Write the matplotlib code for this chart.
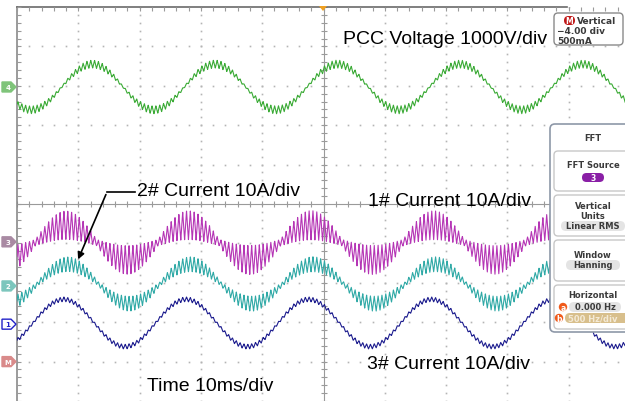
import numpy as np
import matplotlib
matplotlib.use("Agg")
import matplotlib.pyplot as plt
from matplotlib.patches import FancyBboxPatch, Polygon, Circle

# ---- data (1 div = 10 ms horizontally) ----
channel_names = ["4", "3", "2", "1"]
trace_colors = ["#3aaa35", "#b535b5", "#2fa9a6", "#1c1c8e"]
offset_div = [2.97, -0.98, -2.03, -3.02]        # trace centre line
amplitude_div = [0.58, 0.44, 0.50, 0.60]        # 50 Hz fundamental
peak_time_ms = [12.3, 8.0, 8.3, 7.6]            # time of first crest
ripple_peak_div = [0.10, 0.37, 0.19, 0.06]      # ripple half-width at crest
ripple_zero_div = [0.02, 0.08, 0.05, 0.03]      # ripple half-width at zero crossing
fund_hz = 50
ripple_hz = 1600

marker_labels = ["4", "3", "2", "1", "M"]
marker_levels_div = [2.97, -0.96, -2.08, -3.05, -4.0]
marker_colors = ["#7fc47a", "#a98aa3", "#7cc6bd", "white", "#d98a8a"]
marker_edges = ["#7fc47a", "#a98aa3", "#7cc6bd", "#2323c8", "#d98a8a"]

W, H = 625, 402
fig = plt.figure(figsize=(W / 100, H / 100), dpi=100)
fig.patch.set_facecolor("white")

# graticule axes: 10 x 10 divisions, left edge at px 17, top at px 8
ax = fig.add_axes([17 / W, 0, 613 / W, 394 / H])
ax.set_xlim(0, 10)
ax.set_ylim(-5, 5)
ax.axis("off")

gc = "#b4b4b4"
fine_x = np.arange(0, 10.01, 0.2)
fine_y = np.arange(-5, 5.01, 0.2)
for gx in range(1, 10):
    if gx == 5:
        continue
    ax.plot(np.full_like(fine_y, gx), fine_y, ls="none", marker="s", ms=1.2, color=gc, mew=0)
for gy in range(-4, 5):
    if gy == 0:
        continue
    ax.plot(fine_x, np.full_like(fine_x, gy), ls="none", marker="s", ms=1.2, color=gc, mew=0)

# centre cross with minor ticks
ax.plot([0, 10], [0, 0], color="#9a9a9a", lw=0.8)
ax.plot([5, 5], [-5, 5], color="#9a9a9a", lw=0.8)
ax.plot(fine_x, np.zeros_like(fine_x), ls="none", marker="|", ms=4, color="#9a9a9a", mew=0.8)
ax.plot(np.full_like(fine_y, 5), fine_y, ls="none", marker="_", ms=4, color="#9a9a9a", mew=0.8)

# frame: left edge and top edge with inward ticks
top_end = (567 - 17) / 61.3
ax.plot([0, 0], [-5, 5], color="#8a8a8a", lw=1.2, clip_on=False)
ax.plot([0, top_end], [5, 5], color="#6a6a6a", lw=1.2, clip_on=False)
ax.plot(np.zeros_like(fine_y), fine_y, ls="none", marker=1, ms=3, color="#9a9a9a", mew=0.8)
ax.plot(fine_x, np.full_like(fine_x, 5), ls="none", marker=3, ms=3, color="#9a9a9a", mew=0.8, clip_on=False)

# traces: 50 Hz fundamental plus triangular switching ripple
t_ms = np.linspace(0, 100, 8000)
tri = (2 / np.pi) * np.arcsin(np.sin(2 * np.pi * ripple_hz * t_ms / 1000))
for i in range(len(channel_names)):
    ph = 2 * np.pi * fund_hz * (t_ms - peak_time_ms[i]) / 1000
    env = ripple_zero_div[i] + (ripple_peak_div[i] - ripple_zero_div[i]) * np.abs(np.cos(ph))
    y = offset_div[i] + amplitude_div[i] * np.cos(ph) + env * tri
    ax.plot(t_ms / 10, y, color=trace_colors[i], lw=0.8)

# ---- overlay in pixel coordinates for the scope UI ----
ov = fig.add_axes([0, 0, 1, 1])
ov.set_xlim(0, W)
ov.set_ylim(H, 0)
ov.axis("off")
ov.patch.set_alpha(0)

# channel ground markers
for lab, lev, fc, ec in zip(marker_labels, marker_levels_div, marker_colors, marker_edges):
    py = 205 - lev * 39.4
    ov.add_patch(Polygon([(2, py - 5), (11, py - 5), (16, py), (11, py + 5), (2, py + 5)],
                         closed=True, fc=fc, ec=ec, lw=1))
    ov.text(8, py, lab, fontsize=5, ha="center", va="center",
            color=ec if fc == "white" else "white", fontweight="bold")

# trigger marker
ov.add_patch(Polygon([(319, 7), (327, 7), (323, 12)], closed=True, fc="#f0a020", ec="none"))

# annotation text
font = "Liberation Sans"
ov.text(343, 40, "PCC Voltage 1000V/div", fontsize=14, family=font, va="center", ha="left")
ov.text(137, 192, "2# Current 10A/div", fontsize=14, family=font, va="center", ha="left")
ov.text(368, 202, "1# Current 10A/div", fontsize=14, family=font, va="center", ha="left")
ov.text(367, 365, "3# Current 10A/div", fontsize=14, family=font, va="center", ha="left")
ov.text(147, 387, "Time 10ms/div", fontsize=14, family=font, va="center", ha="left")
ov.plot([135, 107], [193, 193], color="black", lw=1.2)
ov.annotate("", xy=(77, 263), xytext=(107, 193),
            arrowprops=dict(arrowstyle="-|>", color="black", lw=1.2, mutation_scale=10))

# vertical readout box
ui = "#3a3a3a"
ov.add_patch(FancyBboxPatch((554, 14), 69, 32, boxstyle="round,pad=0,rounding_size=4",
                            fc="white", ec="#8a8a8a", lw=1))
ov.add_patch(FancyBboxPatch((564, 17), 11, 9, boxstyle="round,pad=0,rounding_size=4.5",
                            fc="#c01818", ec="none"))
ov.text(569.5, 21.8, "M", fontsize=5.5, color="white", ha="center", va="center", fontweight="bold")
ov.text(577, 21.5, "Vertical", fontsize=6.5, color=ui, va="center", fontweight="bold")
ov.text(557, 31.5, "\u22124.00 div", fontsize=6.5, color=ui, va="center", fontweight="bold")
ov.text(557, 41.5, "500mA", fontsize=6.5, color=ui, va="center", fontweight="bold")

# FFT side panel
ov.add_patch(FancyBboxPatch((550, 125), 90, 208, boxstyle="round,pad=0,rounding_size=5",
                            fc="white", ec="#8e98a8", lw=1.2))
ov.text(593, 139, "FFT", fontsize=6, color=ui, ha="center", va="center", fontweight="bold")
for top, bot in [(152, 192), (196, 237), (241, 282), (286, 330)]:
    ov.add_patch(FancyBboxPatch((554, top), 85, bot - top, boxstyle="round,pad=0,rounding_size=4",
                                fc="white", ec="#c8c8c8", lw=1))

ov.text(593, 166, "FFT Source", fontsize=6, color=ui, ha="center", va="center", fontweight="bold")
ov.add_patch(FancyBboxPatch((582, 174), 22, 9, boxstyle="round,pad=0,rounding_size=4.5",
                            fc="#8a1fa6", ec="none"))
ov.text(593, 178.5, "3", fontsize=5.5, color="white", ha="center", va="center", fontweight="bold")

ov.text(593, 207, "Vertical", fontsize=6, color=ui, ha="center", va="center", fontweight="bold")
ov.text(593, 217, "Units", fontsize=6, color=ui, ha="center", va="center", fontweight="bold")
ov.add_patch(FancyBboxPatch((561, 222), 64, 10, boxstyle="round,pad=0,rounding_size=5",
                            fc="#e4e4e4", ec="none"))
ov.text(593, 227, "Linear RMS", fontsize=6, color=ui, ha="center", va="center", fontweight="bold")

ov.text(593, 256, "Window", fontsize=6, color=ui, ha="center", va="center", fontweight="bold")
ov.add_patch(FancyBboxPatch((566, 261), 54, 10, boxstyle="round,pad=0,rounding_size=5",
                            fc="#e4e4e4", ec="none"))
ov.text(593, 266, "Hanning", fontsize=6, color=ui, ha="center", va="center", fontweight="bold")

ov.text(593, 296, "Horizontal", fontsize=6, color=ui, ha="center", va="center", fontweight="bold")
ov.add_patch(Circle((563, 308), 4.2, fc="#f05a1a", ec="none"))
ov.text(563, 308.5, "a", fontsize=5.5, color="white", ha="center", va="center", fontweight="bold")
ov.add_patch(FancyBboxPatch((569, 303), 52, 10, boxstyle="round,pad=0,rounding_size=5",
                            fc="#e4e4e4", ec="none"))
ov.text(595, 308, "0.000 Hz", fontsize=6, color=ui, ha="center", va="center", fontweight="bold")
ov.add_patch(Circle((559, 319), 4.2, fc="#f05a1a", ec="none"))
ov.text(559, 319.5, "b", fontsize=5.5, color="white", ha="center", va="center", fontweight="bold")
ov.add_patch(FancyBboxPatch((565, 314), 70, 10, boxstyle="round,pad=0,rounding_size=5",
                            fc="#d8bf8c", ec="none"))
ov.text(568, 319, "500 Hz/div", fontsize=6, color="#f4ead6", ha="left", va="center", fontweight="bold")

fig.savefig("out.png", dpi=100)
